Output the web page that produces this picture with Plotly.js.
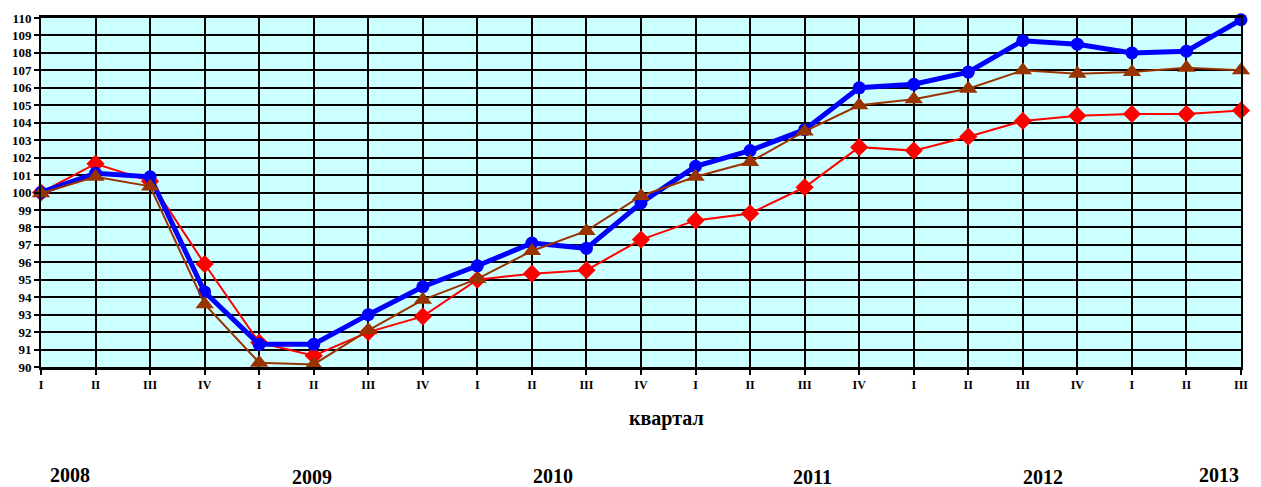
<!DOCTYPE html>
<html><head><meta charset="utf-8">
<script src="https://cdn.plot.ly/plotly-3.0.1.min.js"></script>
<style>html,body{margin:0;padding:0;background:#fff}#chart{width:1261px;height:487px}</style>
</head><body><div id="chart"></div>
<script>
const quarters = ["I","II","III","IV","I","II","III","IV","I","II","III","IV","I","II","III","IV","I","II","III","IV","I","II","III"];
const years = ["2008","2009","2010","2011","2012","2013"];
const blueSeries  = [100.0,101.1,100.9,94.3,91.3,91.3,93.0,94.6,95.8,97.1,96.8,99.4,101.5,102.4,103.6,106.0,106.2,106.9,108.7,108.5,108.0,108.1,109.9];
const redSeries   = [100.0,101.65,100.65,95.9,91.4,90.65,92.0,92.9,95.0,95.35,95.55,97.3,98.4,98.8,100.3,102.6,102.4,103.2,104.1,104.4,104.5,104.5,104.7];
const brownSeries = [99.95,100.9,100.35,93.6,90.25,90.15,92.1,93.85,95.05,96.65,97.8,99.8,100.9,101.75,103.5,105.0,105.35,105.95,107.0,106.8,106.9,107.15,107.0];
const xIdx = quarters.map((q,i)=>i);
const yTicks = []; for (let v=90; v<=110; v++) yTicks.push(v);
const yearPos = [0.53,4.97,9.39,14.15,18.37,21.6];
const yearY = [-0.31,-0.315,-0.313,-0.315,-0.315,-0.31];

const serif = "Liberation Serif, Times New Roman, serif";
const traces = [
  {x:xIdx,y:redSeries,mode:'lines+markers',cliponaxis:false,line:{color:'#FF0000',width:2},marker:{symbol:'diamond',size:14,color:'#FF0000'}},
  {x:xIdx,y:blueSeries,mode:'lines+markers',cliponaxis:false,line:{color:'#0000FF',width:5},marker:{symbol:'circle',size:13,color:'#0000FF'}},
  {x:xIdx,y:brownSeries,mode:'lines+markers',cliponaxis:false,line:{color:'#993300',width:2},marker:{symbol:'triangle-up',size:16,color:'#993300'}}
];
const annotations = years.map((y,i)=>({text:y,xref:'x',yref:'paper',x:yearPos[i],y:yearY[i],showarrow:false,xanchor:'center',yanchor:'middle',font:{family:serif,size:20,color:'#000',weight:'bold'}}));
annotations.push({text:'квартал',xref:'paper',yref:'paper',x:(666-41)/1200,y:(367-418)/349,showarrow:false,xanchor:'center',yanchor:'middle',font:{family:serif,size:20,color:'#000',weight:'bold'}});
const layout = {
  width:1261,height:487,showlegend:false,
  margin:{l:41,r:20,t:18,b:120,pad:0},
  paper_bgcolor:'#FFFFFF',plot_bgcolor:'#CCFFFF',
  xaxis:{range:[0,22],tickvals:xIdx,ticktext:quarters,showgrid:true,gridcolor:'#000',gridwidth:2,zeroline:false,
    showline:true,linecolor:'#000',linewidth:3,mirror:true,ticks:'outside',ticklen:5,tickwidth:2,tickcolor:'#000',
    tickfont:{family:serif,size:12,color:'#000',weight:'bold'}},
  yaxis:{range:[90,110],tickvals:yTicks,showgrid:true,gridcolor:'#000',gridwidth:2,zeroline:false,
    showline:true,linecolor:'#000',linewidth:2,mirror:true,ticks:'outside',ticklen:5,tickwidth:2,tickcolor:'#000',
    tickfont:{family:serif,size:13,color:'#000',weight:'bold'}},
  annotations:annotations
};
Plotly.newPlot('chart',traces,layout,{displayModeBar:false,staticPlot:true});
</script></body></html>
